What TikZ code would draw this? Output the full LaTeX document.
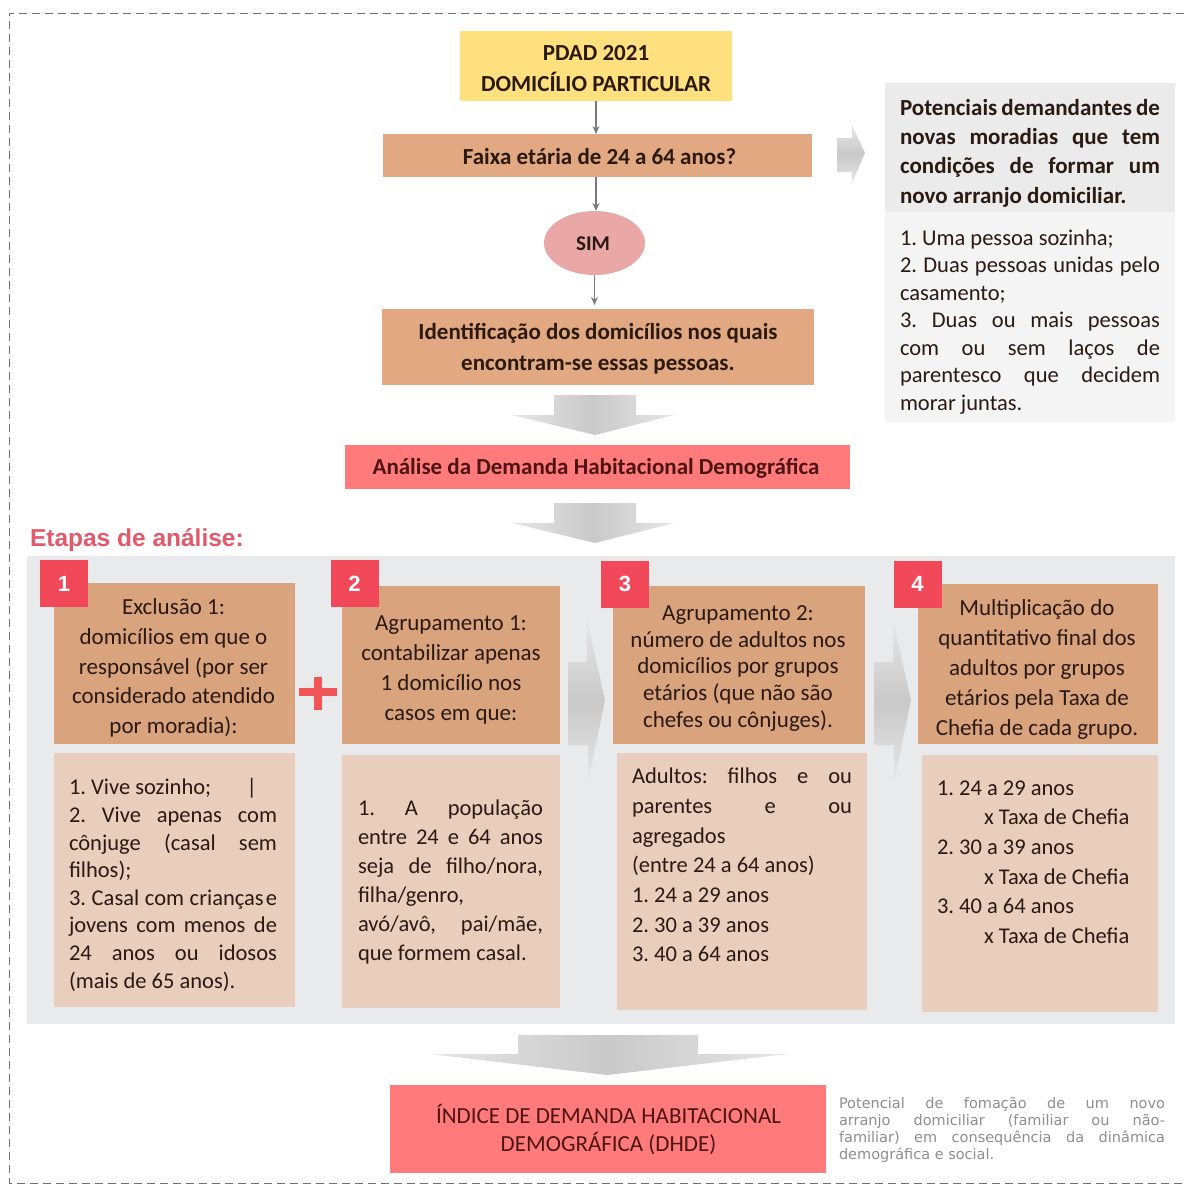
\documentclass[tikz,border=0pt]{standalone}
\usepackage{fontspec}
\setmainfont{Carlito}
\newfontfamily\arialf{Liberation Sans}
\newfontfamily\notef{DejaVu Sans}
\usetikzlibrary{calc,shapes.geometric,arrows.meta}
\definecolor{yel}{HTML}{FFE07F}
\definecolor{tantop}{HTML}{E1A882}
\definecolor{tanhead}{HTML}{D9A37E}
\definecolor{tanlight}{HTML}{E9CDBD}
\definecolor{simcol}{HTML}{E9A7A6}
\definecolor{redbox}{HTML}{FF7B7B}
\definecolor{numsq}{HTML}{F2495A}
\definecolor{pluscol}{HTML}{F25555}
\definecolor{etapas}{HTML}{E2596B}
\definecolor{panel}{HTML}{E9EAEC}
\definecolor{righthead}{HTML}{EBEBEB}
\definecolor{rightbody}{HTML}{F4F4F4}
\definecolor{arrowgray}{HTML}{C9C9C9}
\definecolor{arrowlight}{HTML}{E6E6E6}
\definecolor{thinarrow}{HTML}{7A7A7A}
\definecolor{txt}{HTML}{2A1A12}
\definecolor{redtxt}{HTML}{4E1414}
\definecolor{graytxt}{HTML}{8E8E8E}
\definecolor{bordercol}{HTML}{707070}
\newcommand{\jl}[2]{\makebox[#1pt][s]{#2}}
\frenchspacing
\begin{document}
\begin{tikzpicture}[x=1pt,y=-1pt,
  box/.style={inner sep=0pt, outer sep=0pt, anchor=center},
  lbl/.style={inner sep=0pt, outer sep=0pt, text=txt},
  thinarr/.style={draw=thinarrow, line width=1.2pt, -{Stealth[length=8pt,width=7pt]}},
  downarrow/.style={left color=arrowlight, right color=arrowlight, middle color=arrowgray},
  rightarrow/.style={top color=arrowlight, bottom color=arrowlight, middle color=arrowgray},
  numbox/.style={box, fill=numsq, minimum width=48pt, minimum height=47pt, text=white, font=\arialf\bfseries\fontsize{22}{24}\selectfont},
  border/.style={draw=bordercol, line width=1pt, dash pattern=on 8pt off 5pt}
]
\useasboundingbox (0,0) rectangle (1184,1186);
\fill[white] (0,0) rectangle (1184,1186);
\draw[border] (1184,13) -- (9,13) -- (9,1183) -- (1184,1183);

% ---------- top flow ----------
\node[box, fill=yel, minimum width=272pt, minimum height=70pt] (pdad) at (596,66) {};
\node[lbl, align=center, font=\bfseries\fontsize{23}{31}\selectfont] (pdadt) at (596,69) {PDAD 2021\\DOMICÍLIO PARTICULAR};

\node[box, fill=tantop, minimum width=429pt, minimum height=43pt] (faixa) at (597.5,155.5) {};
\node[lbl, font=\bfseries\fontsize{23}{26}\selectfont] (faixat) at (599.5,157) {Faixa etária de 24 a 64 anos?};

\node[box, ellipse, fill=simcol, minimum width=101pt, minimum height=64pt] (sim) at (594.5,243) {};
\node[lbl, font=\bfseries\fontsize{21}{24}\selectfont] (simt) at (593,244) {SIM};

\node[box, fill=tantop, minimum width=432pt, minimum height=76pt] (ident) at (598,347) {};
\node[lbl, align=center, font=\bfseries\fontsize{23}{31}\selectfont] (identt) at (598,349) {Identificação dos domicílios nos quais\\encontram-se essas pessoas.};

\node[box, fill=redbox, minimum width=505pt, minimum height=44pt] (analise) at (597.5,467) {};
\node[lbl, text=redtxt, font=\bfseries\fontsize{23}{26}\selectfont] (analiset) at (596,468) {Análise da Demanda Habitacional Demográfica};

\draw[thinarr] (pdad.south) -- (pdad.south |- faixa.north);
\draw[thinarr] (pdad.south |- faixa.south) -- (pdad.south |- sim.north);
\draw[thinarr] (sim.south) -- ($(sim.south |- ident.north)+(0,-4)$);

% big down arrows
\shade[downarrow] (554,395) -- (636,395) -- (636,415) -- (674,415) -- (595,435) -- (512,415) -- (554,415) -- cycle;
\shade[downarrow] (554,503) -- (636,503) -- (636,523) -- (674,523) -- (595,543) -- (512,523) -- (554,523) -- cycle;

% right side
\shade[rightarrow] (837,138) -- (852,138) -- (852,125) -- (865,153) -- (852,183) -- (852,172) -- (837,172) -- cycle;
\node[box, fill=righthead, minimum width=290pt, minimum height=129pt] (rhead) at (1030,147.5) {};
\node[box, fill=rightbody, minimum width=290pt, minimum height=210pt] (rbody) at (1030,317) {};
\node[lbl, align=left, font=\bfseries\fontsize{23}{29.3}\selectfont] (rheadt) at (1030,153) {%
\jl{260}{Potenciais demandantes de}\\
\jl{260}{novas moradias que tem}\\
\jl{260}{condições de formar um}\\
novo arranjo domiciliar.};
\node[lbl, align=left, font=\fontsize{22.5}{27.5}\selectfont] (rbodyt) at (1030,322) {%
\makebox[260pt][l]{1. Uma pessoa sozinha;}\\
\jl{260}{2. Duas pessoas unidas pelo}\\
casamento;\\
\jl{260}{3. Duas ou mais pessoas}\\
\jl{260}{com ou sem laços de}\\
\jl{260}{parentesco que decidem}\\
morar juntas.};

% ---------- etapas ----------
\node[lbl, anchor=west, text=etapas, font=\arialf\bfseries\fontsize{24.5}{28}\selectfont] (etapast) at (30,540) {Etapas de análise:};
\node[box, fill=panel, minimum width=1148pt, minimum height=468pt] (panelbox) at (601,790) {};

% step 1
\node[box, fill=tanhead, minimum width=241pt, minimum height=161pt] (h1) at (174.5,663.5) {};
\node[box, fill=tanlight, minimum width=241pt, minimum height=254pt] (l1) at (174.5,880) {};
\node[numbox] (n1) at (64,583.5) {1};
\node[lbl, align=center, font=\fontsize{23}{29.75}\selectfont] (h1t) at (173.5,668) {Exclusão 1:\\domicílios em que o\\responsável (por ser\\considerado atendido\\por moradia):};
\node[lbl, align=left, font=\fontsize{22.5}{27.6}\selectfont] (l1t) at (173,885) {%
\makebox[208pt][l]{1. Vive sozinho;\hfill|\hspace*{20pt}}\\
\jl{208}{2. Vive apenas com}\\
\jl{208}{cônjuge (casal sem}\\
filhos);\\
\jl{208}{3. Casal com crianças\hspace{2pt}e}\\
\jl{208}{jovens com menos de}\\
\jl{208}{24 anos ou idosos}\\
(mais de 65 anos).};

% plus
\fill[pluscol] (299,688) rectangle (337,696);
\fill[pluscol] (314,677) rectangle (322,710);

% step 2
\node[box, fill=tanhead, minimum width=218pt, minimum height=158pt] (h2) at (451,665) {};
\node[box, fill=tanlight, minimum width=218pt, minimum height=253pt] (l2) at (451,881.5) {};
\node[numbox] (n2) at (354.5,583.5) {2};
\node[lbl, align=center, font=\fontsize{23}{30}\selectfont] (h2t) at (451,670) {Agrupamento 1:\\contabilizar apenas\\1 domicílio nos\\casos em que:};
\node[lbl, align=left, font=\fontsize{22.5}{29}\selectfont] (l2t) at (450.5,882) {%
\jl{185}{1. A população}\\
\jl{185}{entre 24 e 64 anos}\\
\jl{185}{seja de filho/nora,}\\
filha/genro,\\
\jl{185}{avó/avô, pai/mãe,}\\
que formem casal.};

% arrow 2 -> 3
\shade[rightarrow] (568,662) -- (587,662) -- (587,620) -- (605,700) -- (588,783) -- (588,745) -- (568,745) -- cycle;

% step 3
\node[box, fill=tanhead, minimum width=252pt, minimum height=158pt] (h3) at (739,665) {};
\node[box, fill=tanlight, minimum width=250pt, minimum height=257pt] (l3) at (742,881.5) {};
\node[numbox] (n3) at (625,584) {3};
\node[lbl, align=center, font=\fontsize{23}{26.75}\selectfont] (h3t) at (738,668.5) {Agrupamento 2:\\número de adultos nos\\domicílios por grupos\\etários (que não são\\chefes ou cônjuges).};
\node[lbl, align=left, font=\fontsize{22.5}{29.7}\selectfont] (l3t) at (742,865) {%
\jl{220}{Adultos: filhos e ou}\\
\jl{220}{parentes e ou}\\
agregados\\
(entre 24 a 64 anos)\\
1. 24 a 29 anos\\
2. 30 a 39 anos\\
3. 40 a 64 anos};

% arrow 3 -> 4
\shade[rightarrow] (874,662) -- (893,662) -- (893,620) -- (911,700) -- (894,783) -- (894,745) -- (874,745) -- cycle;

% step 4
\node[box, fill=tanhead, minimum width=240pt, minimum height=160pt] (h4) at (1038,664) {};
\node[box, fill=tanlight, minimum width=236pt, minimum height=257pt] (l4) at (1040,883.5) {};
\node[numbox] (n4) at (917.5,584) {4};
\node[lbl, align=center, font=\fontsize{23}{30}\selectfont] (h4t) at (1037,669) {Multiplicação do\\quantitativo final dos\\adultos por grupos\\etários pela Taxa de\\Chefia de cada grupo.};
\node[lbl, anchor=west, align=left, font=\fontsize{22.5}{29.6}\selectfont] (l4t) at (937,862) {%
1. 24 a 29 anos\\
\hspace*{47pt}x Taxa de Chefia\\
2. 30 a 39 anos\\
\hspace*{47pt}x Taxa de Chefia\\
3. 40 a 64 anos\\
\hspace*{47pt}x Taxa de Chefia};

% ---------- bottom ----------
\shade[downarrow] (518,1035) -- (698,1035) -- (698,1054) -- (787,1054) -- (607,1075) -- (430,1054) -- (518,1054) -- cycle;
\node[box, fill=redbox, minimum width=436pt, minimum height=88pt] (indice) at (608,1129) {};
\node[lbl, align=center, text=redtxt, font=\fontsize{23}{28}\selectfont] (indicet) at (608.5,1129) {ÍNDICE DE DEMANDA HABITACIONAL\\DEMOGRÁFICA (DHDE)};
\node[lbl, align=left, text=graytxt, font=\notef\fontsize{14.5}{16.9}\selectfont] (notet) at (1002,1130) {%
\jl{326}{Potencial de fomação de um novo}\\
\jl{326}{arranjo domiciliar (familiar ou não-}\\
\jl{326}{familiar) em consequência da dinâmica}\\
demográfica e social.};
\end{tikzpicture}
\end{document}
